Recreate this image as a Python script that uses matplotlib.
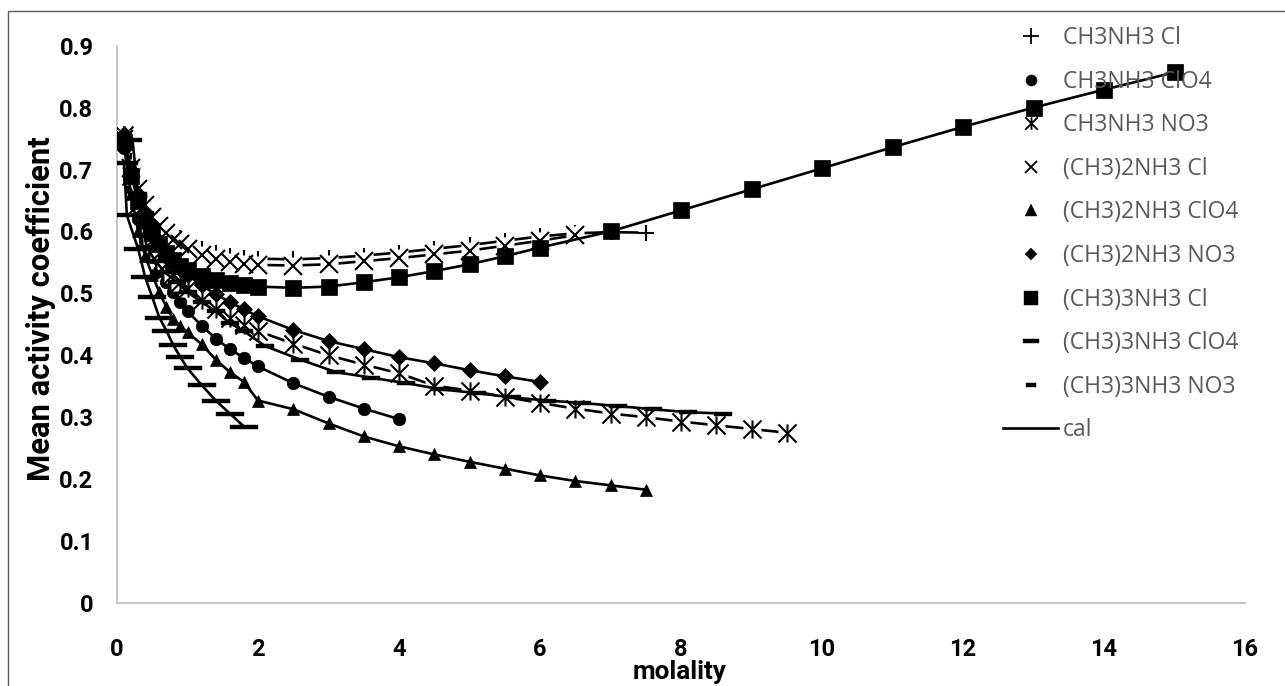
import matplotlib
matplotlib.use("Agg")
import matplotlib.pyplot as plt
from matplotlib.lines import Line2D
from matplotlib.path import Path
from matplotlib.patches import Rectangle

# ---------------- data ----------------
m_fine = [0.1, 0.2, 0.3, 0.4, 0.5, 0.6, 0.7, 0.8, 0.9, 1.0,
          1.2, 1.4, 1.6, 1.8, 2.0]

ma_cl_x = m_fine + [2.5, 3.0, 3.5, 4.0, 4.5, 5.0, 5.5, 6.0, 6.5, 7.0, 7.5]
ma_cl_y = [0.758, 0.713, 0.678, 0.653, 0.634, 0.619, 0.607, 0.597, 0.589, 0.582,
           0.572, 0.565, 0.560, 0.557, 0.556, 0.555, 0.557, 0.561, 0.566, 0.572,
           0.578, 0.585, 0.592, 0.597, 0.599, 0.598]

ma_clo4_x = m_fine + [2.5, 3.0, 3.5, 4.0]
ma_clo4_y = [0.735, 0.670, 0.620, 0.585, 0.558, 0.536, 0.518, 0.502, 0.486, 0.471,
             0.448, 0.427, 0.410, 0.396, 0.382, 0.355, 0.333, 0.314, 0.297]

ma_no3_x = m_fine + [2.5, 3.0, 3.5, 4.0, 4.5, 5.0, 5.5, 6.0, 6.5, 7.0, 7.5,
                     8.0, 8.5, 9.0, 9.5]
ma_no3_y = [0.755, 0.690, 0.645, 0.612, 0.586, 0.565, 0.547, 0.532, 0.519, 0.508,
            0.489, 0.474, 0.461, 0.449, 0.439, 0.419, 0.400, 0.385, 0.371, 0.351,
            0.343, 0.333, 0.323, 0.314, 0.306, 0.300, 0.293, 0.287, 0.281, 0.275]

dma_cl_x = m_fine + [2.5, 3.0, 3.5, 4.0, 4.5, 5.0, 5.5, 6.0, 6.5]
dma_cl_y = [0.750, 0.703, 0.668, 0.643, 0.624, 0.609, 0.597, 0.587, 0.579, 0.572,
            0.562, 0.555, 0.550, 0.547, 0.546, 0.545, 0.547, 0.552, 0.557, 0.563,
            0.569, 0.577, 0.585, 0.594]

dma_clo4_x = m_fine + [2.5, 3.0, 3.5, 4.0, 4.5, 5.0, 5.5, 6.0, 6.5, 7.0, 7.5]
dma_clo4_y = [0.740, 0.660, 0.600, 0.560, 0.530, 0.502, 0.478, 0.458, 0.447, 0.437,
              0.418, 0.393, 0.373, 0.357, 0.327, 0.313, 0.290, 0.269, 0.253, 0.240,
              0.228, 0.217, 0.206, 0.197, 0.190, 0.183]

dma_no3_x = m_fine + [2.5, 3.0, 3.5, 4.0, 4.5, 5.0, 5.5, 6.0]
dma_no3_y = [0.757, 0.700, 0.660, 0.630, 0.605, 0.585, 0.567, 0.552, 0.540, 0.530,
             0.513, 0.499, 0.486, 0.474, 0.463, 0.441, 0.423, 0.410, 0.397, 0.387,
             0.376, 0.366, 0.357]

tma_cl_x = m_fine + [2.5, 3.0, 3.5, 4.0, 4.5, 5.0, 5.5, 6.0, 7.0, 8.0, 9.0,
                     10.0, 11.0, 12.0, 13.0, 14.0, 15.0]
tma_cl_y = [0.745, 0.690, 0.650, 0.620, 0.597, 0.580, 0.566, 0.554, 0.545, 0.538,
            0.528, 0.521, 0.516, 0.513, 0.511, 0.509, 0.511, 0.518, 0.526, 0.536,
            0.547, 0.560, 0.574, 0.600, 0.634, 0.668, 0.702, 0.736, 0.769, 0.800,
            0.829, 0.857]

tma_clo4_x = [0.1, 0.14, 0.3, 0.4, 0.5, 0.6, 0.7, 0.8, 0.9, 1.0, 1.2, 1.4, 1.6, 1.8]
tma_clo4_y = [0.710, 0.626, 0.572, 0.526, 0.494, 0.461, 0.440, 0.416, 0.397, 0.379,
              0.352, 0.327, 0.306, 0.285]

tma_no3_x = [0.22, 0.3, 0.42, 0.54, 0.68, 0.85, 1.0, 1.2, 1.4, 1.6, 1.8, 2.1, 2.6,
             3.1, 3.6, 4.1, 4.6, 5.1, 5.6, 6.1, 6.6, 7.1, 7.6, 8.1, 8.6]
tma_no3_y = [0.747, 0.660, 0.575, 0.553, 0.534, 0.518, 0.502, 0.486, 0.471, 0.452,
             0.439, 0.415, 0.393, 0.373, 0.364, 0.355, 0.345, 0.339, 0.332, 0.327,
             0.323, 0.318, 0.313, 0.308, 0.306]

labels = ["CH3NH3 Cl", "CH3NH3 ClO4", "CH3NH3 NO3", "(CH3)2NH3 Cl",
          "(CH3)2NH3 ClO4", "(CH3)2NH3 NO3", "(CH3)3NH3 Cl",
          "(CH3)3NH3 ClO4", "(CH3)3NH3 NO3", "cal"]

x_ticks = [0, 2, 4, 6, 8, 10, 12, 14, 16]
y_ticks = [0, 0.1, 0.2, 0.3, 0.4, 0.5, 0.6, 0.7, 0.8, 0.9]

# ---------------- marker shapes ----------------
asterisk = Path([(-1, -1), (1, 1), (-1, 1), (1, -1), (0, -1), (0, 1)],
                [Path.MOVETO, Path.LINETO, Path.MOVETO, Path.LINETO,
                 Path.MOVETO, Path.LINETO])


def bar_marker(half_height):
    return [(-1, -half_height), (1, -half_height), (1, half_height),
            (-1, half_height), (-1, -half_height)]


dash_wide = bar_marker(0.13)
dash_small = bar_marker(0.2)

# (x, y, marker, size, edge width, filled, white backing square,
#  legend marker, legend size)
series = [
    (ma_cl_x, ma_cl_y, "+", 11, 1.5, False, True, "+", 11),
    (ma_clo4_x, ma_clo4_y, "o", 9, 0.5, True, False, "o", 8),
    (ma_no3_x, ma_no3_y, asterisk, 13, 1.5, False, True, asterisk, 9),
    (dma_cl_x, dma_cl_y, "x", 13, 1.5, False, True, "x", 9),
    (dma_clo4_x, dma_clo4_y, "^", 8.5, 0.5, True, False, "^", 8),
    (dma_no3_x, dma_no3_y, "D", 8, 0.5, True, False, "D", 6.6),
    (tma_cl_x, tma_cl_y, "s", 11, 0.5, True, False, "s", 10.5),
    (tma_clo4_x, tma_clo4_y, dash_wide, 20, 0.3, True, False, bar_marker(0.3), 11),
    (tma_no3_x, tma_no3_y, dash_small, 13, 0.3, True, False, bar_marker(0.5), 6.5),
]

fig = plt.figure(figsize=(12.85, 6.86), dpi=100)
ax = fig.add_axes([117 / 1285, 1 - 603 / 686, (1245 - 117) / 1285, (603 - 45.7) / 686])

for i, (xs, ys, mk, ms, mew, filled, backing, _, _) in enumerate(series):
    z = 3 + 3 * i
    ax.plot(xs, ys, color="black", lw=1.9, zorder=z, solid_joinstyle="round")
    if backing:
        ax.plot(xs, ys, ls="none", marker="s", ms=ms, mfc="white", mec="none",
                zorder=z + 1)
    ax.plot(xs, ys, ls="none", marker=mk, ms=ms,
            mfc="black" if filled else "none", mec="black", mew=mew, zorder=z + 2)

BOLD_FAMILY = ["Roboto", "DejaVu Sans"]
tick_font = {"family": BOLD_FAMILY, "weight": "bold", "size": 17}
ax.set_xlim(0, 16)
ax.set_ylim(0, 0.9)
ax.set_xticks(x_ticks)
ax.set_yticks(y_ticks)
ax.set_xticklabels([str(t) for t in x_ticks], fontdict=tick_font)
ax.set_yticklabels(["0"] + [f"{t:.1f}" for t in y_ticks[1:]], fontdict=tick_font)
ax.tick_params(length=0)
ax.tick_params(axis="y", pad=17)
ax.tick_params(axis="x", pad=25)

for side in ["top", "right"]:
    ax.spines[side].set_visible(False)
for side in ["left", "bottom"]:
    ax.spines[side].set_color("#BFBFBF")
    ax.spines[side].set_linewidth(1.3)

fig.text(41 / 1285, 1 - 309 / 686, "Mean activity coefficient", rotation=90,
         ha="center", va="center", fontsize=22.3, fontweight="bold", family=BOLD_FAMILY)
fig.text(680 / 1285, 1 - 672 / 686, "molality", ha="center", va="center",
         fontsize=18.8, fontweight="bold", family=BOLD_FAMILY)

# legend
handles = []
for xs, ys, mk, ms, mew, filled, backing, lmk, lms in series:
    handles.append(Line2D([], [], ls="none", marker=lmk, ms=lms,
                          mfc="black" if filled else "none", mec="black",
                          mew=1.3 if not filled else 0.3))
handles.append(Line2D([], [], color="black", lw=1.9))
leg = ax.legend(handles, labels, loc="upper left",
                bbox_to_anchor=(1003 / 1285, 1 - 26 / 686), bbox_transform=fig.transFigure,
                frameon=False, prop={"family": "Open Sans", "size": 16.5},
                labelspacing=0.855, handlelength=2.4, handletextpad=0.22,
                borderaxespad=0, borderpad=0)
for t in leg.get_texts():
    t.set_color("#595959")
leg.set_zorder(50)

# chart-area border
fig.patches.append(Rectangle((8 / 1285, -0.1), 1.2, (1 - 11 / 686) + 0.1,
                             transform=fig.transFigure, fill=False,
                             edgecolor="#595959", lw=1.0))

fig.savefig("out.png", dpi=100, facecolor="white")
